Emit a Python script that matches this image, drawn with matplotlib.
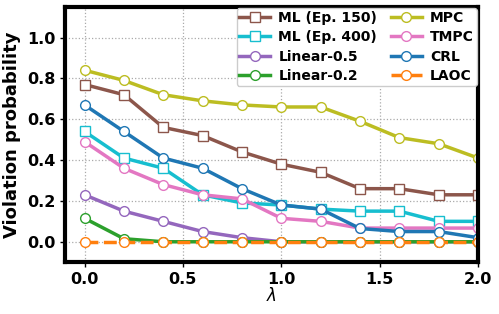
import matplotlib
matplotlib.use('Agg')
import matplotlib.pyplot as plt

lam = [0.0, 0.2, 0.4, 0.6, 0.8, 1.0, 1.2, 1.4, 1.6, 1.8, 2.0]

ml_150 = [0.77, 0.72, 0.56, 0.52, 0.44, 0.38, 0.34, 0.26, 0.26, 0.23, 0.23]
ml_400 = [0.54, 0.41, 0.36, 0.23, 0.19, 0.18, 0.16, 0.15, 0.15, 0.10, 0.10]
linear_05 = [0.23, 0.15, 0.10, 0.05, 0.02, 0.0, 0.0, 0.0, 0.0, 0.0, 0.0]
linear_02 = [0.115, 0.015, 0.0, 0.0, 0.0, 0.0, 0.0, 0.0, 0.0, 0.0, 0.0]
mpc = [0.84, 0.79, 0.72, 0.69, 0.67, 0.66, 0.66, 0.59, 0.51, 0.48, 0.41]
tmpc = [0.49, 0.36, 0.28, 0.23, 0.21, 0.115, 0.10, 0.067, 0.067, 0.067, 0.067]
crl = [0.67, 0.54, 0.41, 0.36, 0.26, 0.18, 0.16, 0.065, 0.05, 0.05, 0.02]
laoc = [0.0] * 11

series = [
    ('ML (Ep. 150)', ml_150, 'tab:brown', 's', '-'),
    ('ML (Ep. 400)', ml_400, 'tab:cyan', 's', '-'),
    ('Linear-0.5', linear_05, 'tab:purple', 'o', '-'),
    ('Linear-0.2', linear_02, 'tab:green', 'o', '-'),
    ('MPC', mpc, 'tab:olive', 'o', '-'),
    ('TMPC', tmpc, 'tab:pink', 'o', '-'),
    ('CRL', crl, 'tab:blue', 'o', '-'),
    ('LAOC', laoc, 'tab:orange', 'o', '--'),
]

fig, ax = plt.subplots(figsize=(4.99, 3.14), dpi=100)
for name, vals, color, marker, ls in series:
    ax.plot(lam, vals, color=color, linestyle=ls, linewidth=2.5, marker=marker,
            markersize=7, markerfacecolor='white', markeredgewidth=1.0, label=name)

ax.set_xlim(-0.1, 2.0)
ax.set_ylim(-0.1, 1.15)
ax.set_xticks([0.0, 0.5, 1.0, 1.5, 2.0])
ax.set_yticks([0.0, 0.2, 0.4, 0.6, 0.8, 1.0])
ax.grid(True, linestyle=':', color='#aaaaaa', linewidth=0.9)
ax.set_axisbelow(True)
for s in ax.spines.values():
    s.set_linewidth(3)
ax.tick_params(labelsize=11.5, width=1)
for lbl in ax.get_xticklabels() + ax.get_yticklabels():
    lbl.set_fontweight('bold')
ax.set_xlabel(r'$\lambda$', fontsize=12, labelpad=0)
ax.set_ylabel('Violation probability', fontsize=13, fontweight='bold')

ax.legend(ncol=2, loc='upper right', prop={'weight': 'bold', 'size': 10},
          handlelength=2.2, borderpad=0.2, labelspacing=0.38, columnspacing=1.0,
          handletextpad=0.6, borderaxespad=0.1, framealpha=1)

fig.subplots_adjust(left=0.13, right=0.958, top=0.978, bottom=0.165)
fig.savefig('out.png', dpi=100)
